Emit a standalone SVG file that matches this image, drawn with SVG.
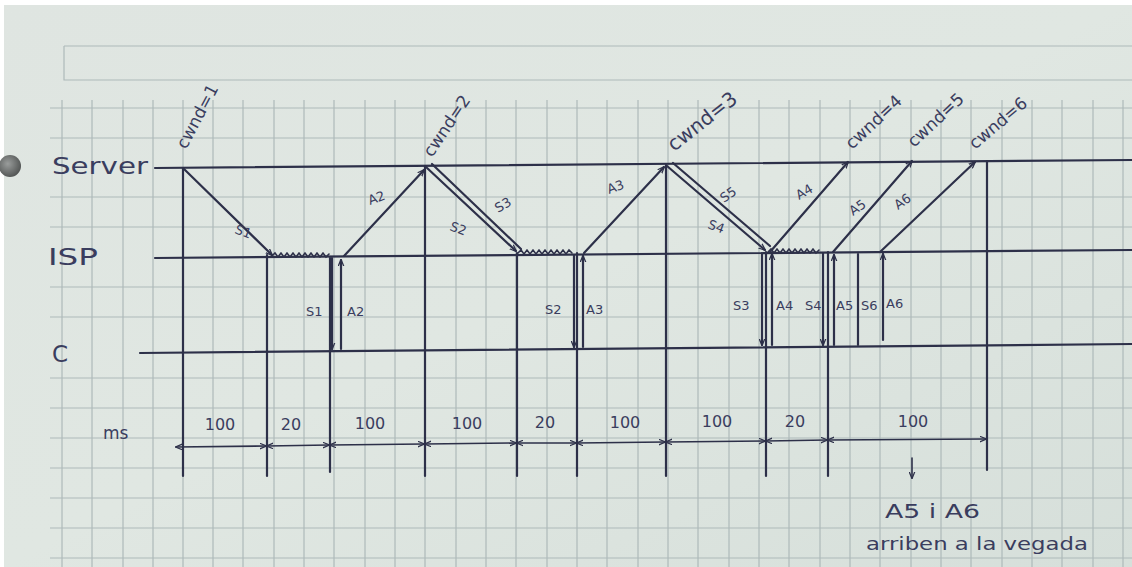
<svg xmlns="http://www.w3.org/2000/svg" width="1132" height="567" viewBox="0 0 1132 567">
<defs>
<style>
.grid{stroke:#aeb9ba;stroke-width:1.2;fill:none}
.ink{stroke:#2d3049;stroke-width:2.2;fill:none;stroke-linecap:round}
.thin{stroke:#2d3049;stroke-width:1.6;fill:none;stroke-linecap:round}
.t{font-family:"DejaVu Sans","Liberation Sans",sans-serif;fill:#3a3d5e}
.lbl{font-size:13px}
.big{font-size:23px}
.w{font-size:17px}
</style>
<marker id="ah" viewBox="0 0 10 10" refX="9" refY="5" markerWidth="7" markerHeight="7" orient="auto-start-reverse" markerUnits="userSpaceOnUse">
<path d="M0,1 L10,5 L0,9" fill="none" stroke="#2d3049" stroke-width="1.8"/>
</marker>
<linearGradient id="paper" x1="0" y1="0" x2="1" y2="1">
<stop offset="0" stop-color="#dfe5e1"/>
<stop offset="0.5" stop-color="#e0e7e2"/>
<stop offset="1" stop-color="#d6dfda"/>
</linearGradient>
<radialGradient id="hole" cx="0.4" cy="0.4" r="0.6">
<stop offset="0" stop-color="#9a9d9c"/>
<stop offset="1" stop-color="#555857"/>
</radialGradient>
</defs>
<rect width="1132" height="567" fill="url(#paper)"/>
<rect x="0" y="0" width="1132" height="5" fill="#ffffff"/>
<rect x="0" y="0" width="4" height="567" fill="#ffffff"/>
<polygon points="815,0 840,0 850,5 825,5" fill="#ffffff"/>
<polygon points="935,0 960,0 970,5 945,5" fill="#ffffff"/>
<circle cx="10" cy="166" r="11" fill="url(#hole)"/>
<g id="grid" class="grid">
<path d="M62,100V567M92,100V567M123,100V567M153,100V567M183,100V567M213,100V567M243,100V567M274,100V567M304,100V567M334,100V567M365,100V567M395,100V567M425,100V567M456,100V567M486,100V567M516,100V567M547,100V567M577,100V567M607,100V567M638,100V567M668,100V567M698,100V567M729,100V567M759,100V567M789,100V567M820,100V567M850,100V567M880,100V567M911,100V567M941,100V567M971,100V567M1002,100V567M1032,100V567M1062,100V567M1093,100V567M1123,100V567"/>
<path d="M50,108H1132M50,138H1132M50,197H1132M50,227H1132M50,287H1132M50,317H1132M50,378H1132M50,408H1132M50,438H1132M50,468H1132M50,498H1132M50,528H1132M50,558H1132"/>
<path d="M64,46H1132M64,46V80H1132"/>
</g>
<g id="axes" class="ink">
<path d="M155,168L1132,160"/>
<path d="M155,258L1132,250"/>
<path d="M140,353L1132,344"/>
</g>
<g id="labels-left">
<text class="t big" x="52" y="174" textLength="96" lengthAdjust="spacingAndGlyphs">Server</text>
<text class="t big" x="48" y="265" textLength="50" lengthAdjust="spacingAndGlyphs">ISP</text>
<text class="t big" x="52" y="362">C</text>
</g>
<g id="timelines" class="ink">
<path d="M183,168V476"/>
<path d="M267,255V476"/>
<path d="M330,258V472"/>
<path d="M425,166V476"/>
<path d="M517,253V476"/>
<path d="M577,253V476"/>
<path d="M666,165V476"/>
<path d="M766,252V476"/>
<path d="M828,252V476"/>
<path d="M987,162V470"/>
</g>
<g id="connectors">
<path class="ink" d="M184,169L272,255" marker-end="url(#ah)"/>
<path class="thin" d="M272,256l3,-3l3,4l3,-4l3,4l3,-4l3,4l3,-4l3,4l3,-4l3,4l3,-4l3,4l3,-4l3,4l3,-4l3,4l3,-4l3,4l3,-3"/>
<path class="ink" d="M344,256L424,170" marker-end="url(#ah)"/>
<path class="ink" d="M426,167L516,251" marker-end="url(#ah)"/>
<path class="ink" d="M432,164L521,249"/>
<path class="thin" d="M518,253l3,-3l3,4l3,-4l3,4l3,-4l3,4l3,-4l3,4l3,-4l3,4l3,-4l3,4l3,-4l3,4l3,-4l3,4l3,-4l3,3"/>
<path class="ink" d="M584,253L664,167" marker-end="url(#ah)"/>
<path class="ink" d="M667,166L765,250" marker-end="url(#ah)"/>
<path class="ink" d="M673,163L770,246"/>
<path class="thin" d="M768,252l3,-3l3,4l3,-4l3,4l3,-4l3,4l3,-4l3,4l3,-4l3,4l3,-4l3,4l3,-4l3,4l3,-4l3,4l3,-3"/>
<path class="ink" d="M770,252L848,162" marker-end="url(#ah)"/>
<path class="ink" d="M833,252L912,161" marker-end="url(#ah)"/>
<path class="ink" d="M880,252L975,162" marker-end="url(#ah)"/>
<path class="ink" d="M332,258V349" marker-end="url(#ah)"/>
<path class="ink" d="M341,349V260" marker-end="url(#ah)"/>
<path class="ink" d="M574,255V347" marker-end="url(#ah)"/>
<path class="ink" d="M583,347V256" marker-end="url(#ah)"/>
<path class="ink" d="M762,253V345" marker-end="url(#ah)"/>
<path class="ink" d="M772,345V254" marker-end="url(#ah)"/>
<path class="ink" d="M823,253V345" marker-end="url(#ah)"/>
<path class="ink" d="M834,345V255" marker-end="url(#ah)"/>
<path class="ink" d="M858,254V345"/>
<path class="ink" d="M883,340V254" marker-end="url(#ah)"/>
</g>
<g id="diag-labels" class="t lbl">
<text x="234" y="233" transform="rotate(20 234 233)">S1</text>
<text x="370" y="205" transform="rotate(-20 370 205)">A2</text>
<text x="449" y="230" transform="rotate(20 449 230)">S2</text>
<text x="498" y="213" transform="rotate(-30 498 213)">S3</text>
<text x="609" y="194" transform="rotate(-20 609 194)">A3</text>
<text x="707" y="228" transform="rotate(20 707 228)">S4</text>
<text x="724" y="203" transform="rotate(-35 724 203)">S5</text>
<text x="799" y="200" transform="rotate(-30 799 200)">A4</text>
<text x="853" y="216" transform="rotate(-35 853 216)">A5</text>
<text x="898" y="210" transform="rotate(-35 898 210)">A6</text>
<text x="306" y="316">S1</text>
<text x="347" y="316">A2</text>
<text x="545" y="314">S2</text>
<text x="586" y="314">A3</text>
<text x="733" y="310">S3</text>
<text x="776" y="310">A4</text>
<text x="805" y="310">S4</text>
<text x="836" y="310">A5</text>
<text x="861" y="310">S6</text>
<text x="886" y="308">A6</text>
</g>
<g id="cwnd-labels" class="t w">
<text x="186" y="150" transform="rotate(-62 186 150)">cwnd=1</text>
<text x="432" y="158" transform="rotate(-56 432 158)">cwnd=2</text>
<text x="674" y="152" transform="rotate(-38 674 152)" font-size="20">cwnd=3</text>
<text x="852" y="150" transform="rotate(-43 852 150)">cwnd=4</text>
<text x="914" y="148" transform="rotate(-43 914 148)">cwnd=5</text>
<text x="975" y="150" transform="rotate(-40 975 150)">cwnd=6</text>
</g>
<g id="timeline-ms">
<text class="t" font-size="17" x="103" y="439">ms</text>
<g class="thin">
<path d="M176,447L266,446" marker-start="url(#ah)" marker-end="url(#ah)"/>
<path d="M267,446L329,445" marker-start="url(#ah)" marker-end="url(#ah)"/>
<path d="M330,445L424,444" marker-start="url(#ah)" marker-end="url(#ah)"/>
<path d="M425,444L516,443" marker-start="url(#ah)" marker-end="url(#ah)"/>
<path d="M517,443L576,443" marker-start="url(#ah)" marker-end="url(#ah)"/>
<path d="M577,443L665,442" marker-start="url(#ah)" marker-end="url(#ah)"/>
<path d="M666,442L765,441" marker-start="url(#ah)" marker-end="url(#ah)"/>
<path d="M766,441L827,440" marker-start="url(#ah)" marker-end="url(#ah)"/>
<path d="M828,440L986,439" marker-start="url(#ah)" marker-end="url(#ah)"/>
<path d="M912,458V478" marker-end="url(#ah)"/>
</g>
<g class="t" font-size="16" text-anchor="middle">
<text x="220" y="430">100</text>
<text x="291" y="430">20</text>
<text x="370" y="429">100</text>
<text x="467" y="429">100</text>
<text x="545" y="428">20</text>
<text x="625" y="428">100</text>
<text x="717" y="427">100</text>
<text x="795" y="427">20</text>
<text x="913" y="427">100</text>
</g>
<g class="t" text-anchor="start">
<text x="885" y="518" font-size="20" textLength="95" lengthAdjust="spacingAndGlyphs">A5 i A6</text>
<text x="866" y="550" font-size="18" textLength="222" lengthAdjust="spacingAndGlyphs">arriben a la vegada</text>
</g>
</g>
</svg>
